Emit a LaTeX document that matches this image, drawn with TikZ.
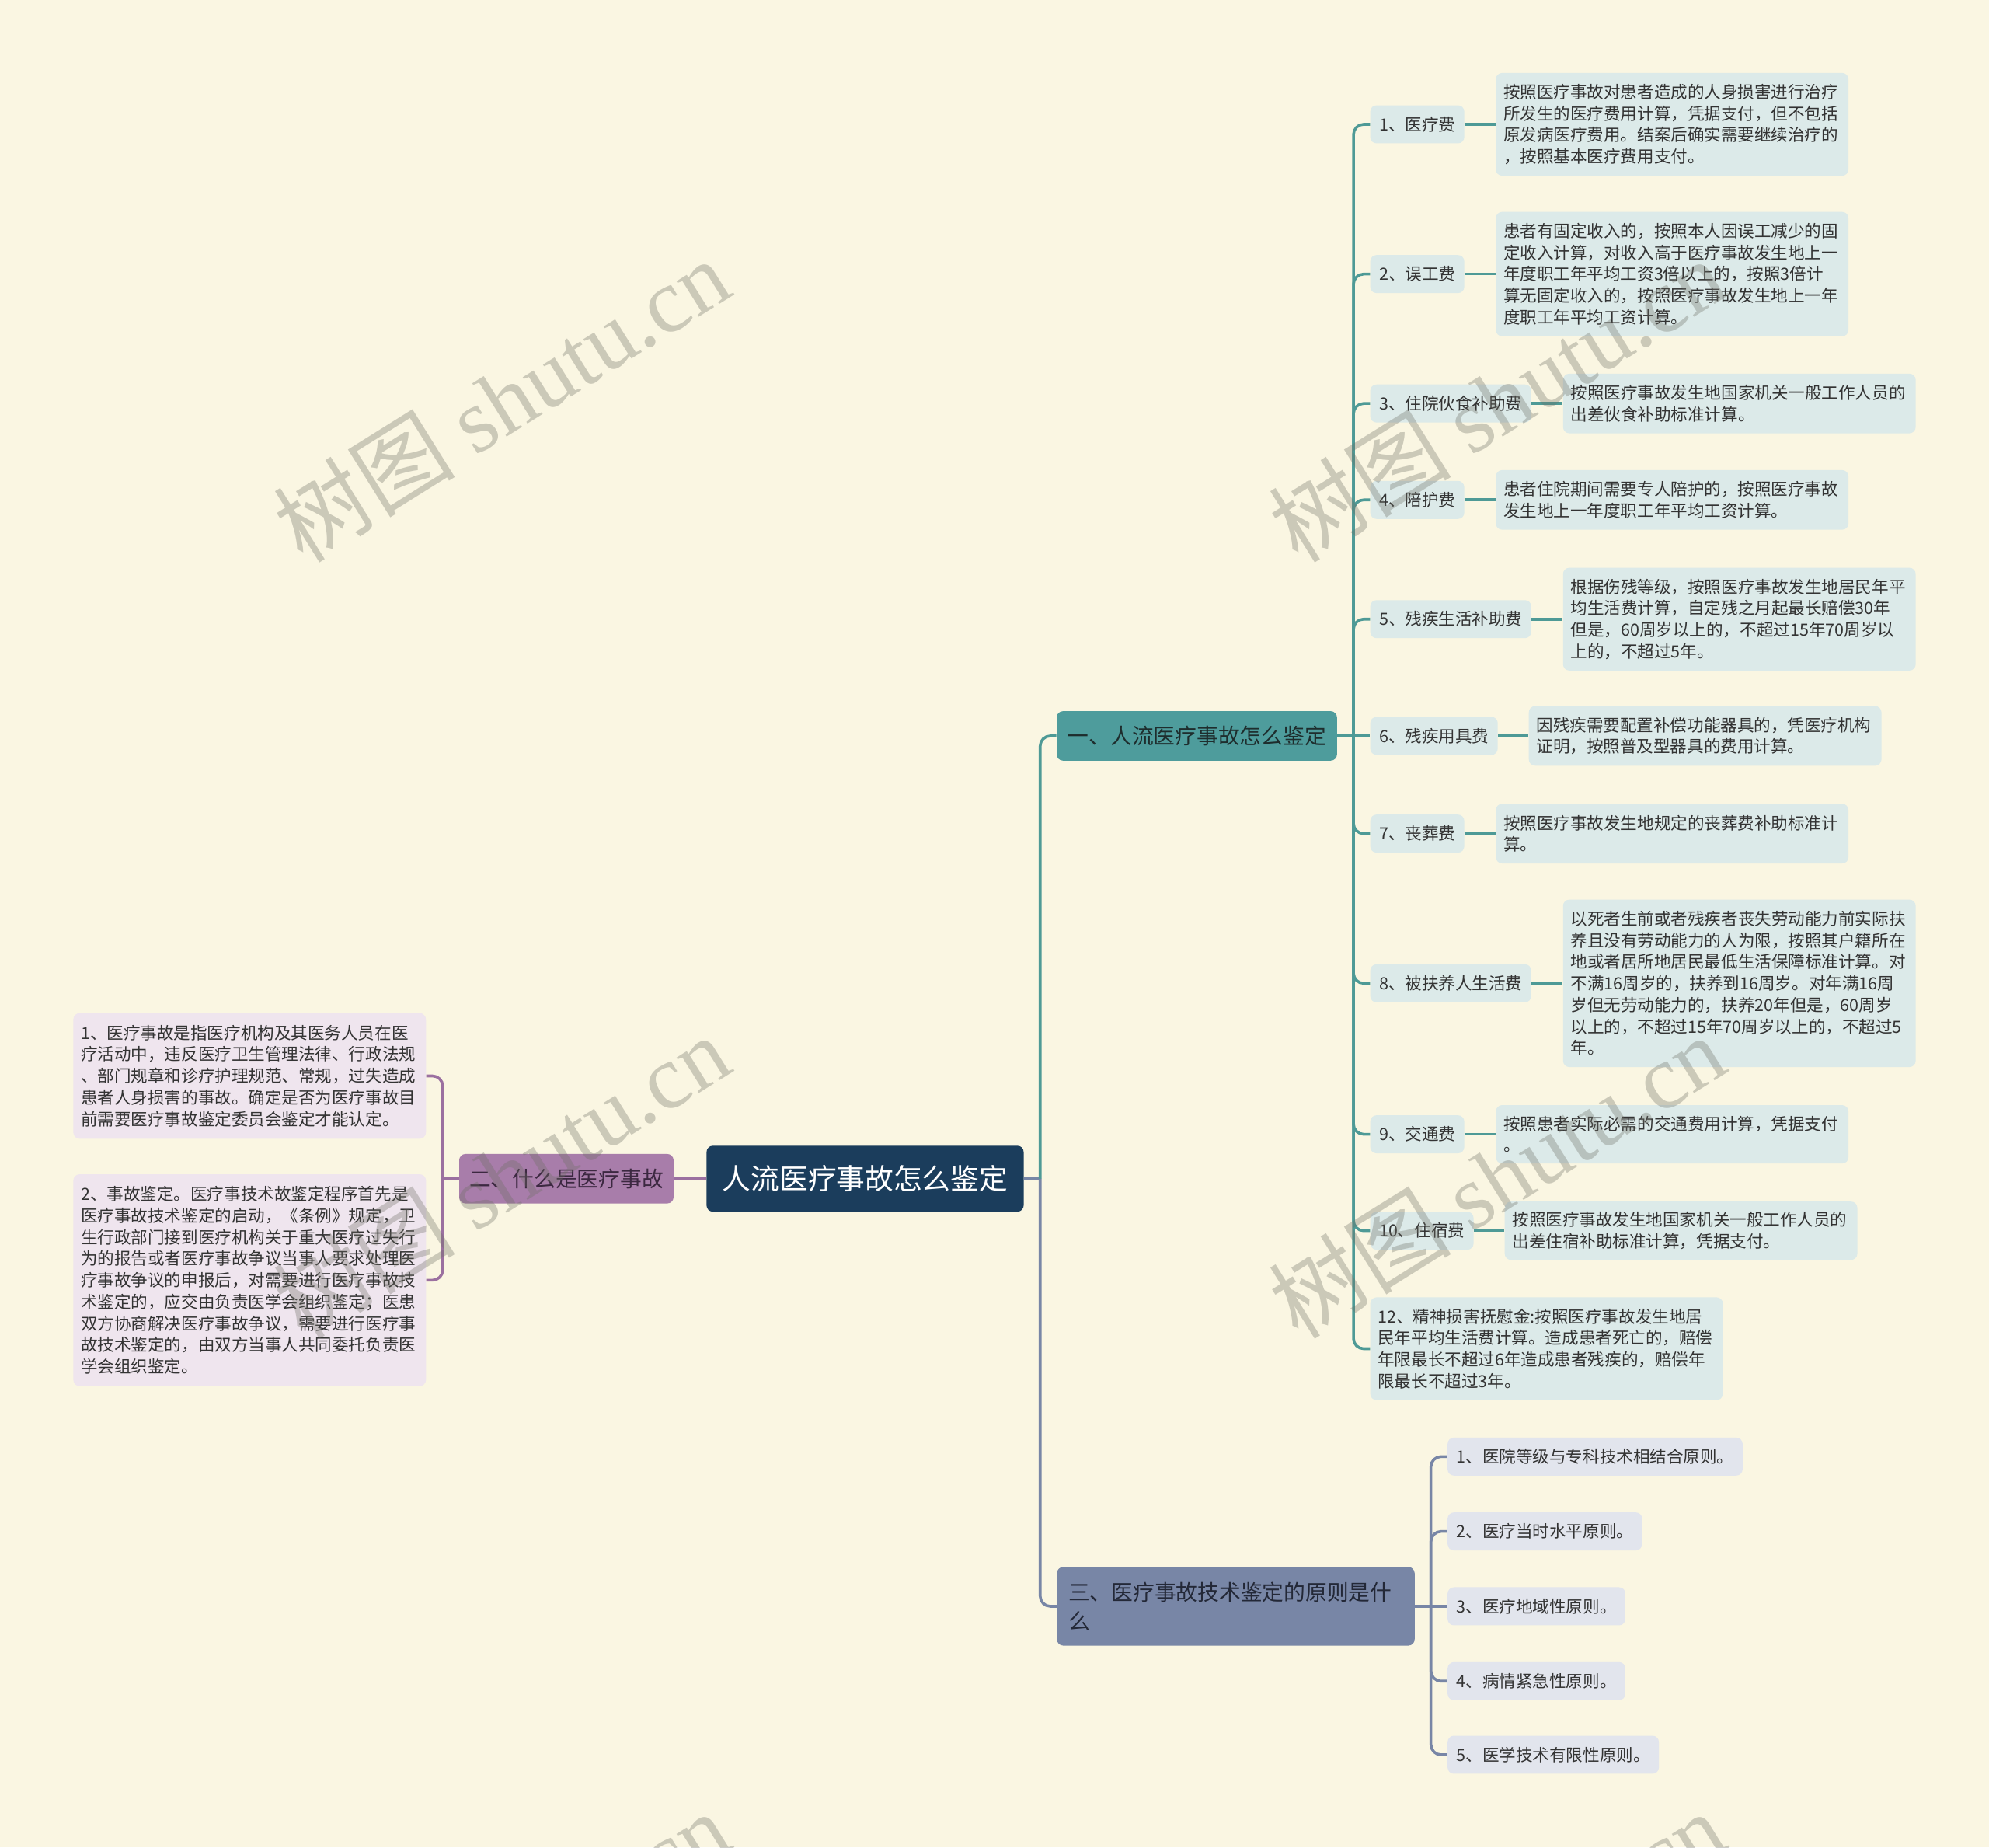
\documentclass[tikz,border=0pt]{standalone}
\usepackage{fontspec}
\setmainfont{Noto Sans CJK SC}
\newfontfamily\wmcjk{Noto Sans CJK SC}
\newfontfamily\wmlat{Liberation Serif}
\definecolor{bgc}{RGB}{250,246,226}
\definecolor{rootc}{RGB}{27,61,92}
\definecolor{tealc}{RGB}{78,156,156}
\definecolor{tealline}{RGB}{78,154,150}
\definecolor{purc}{RGB}{168,125,170}
\definecolor{purline}{RGB}{155,112,160}
\definecolor{slatec}{RGB}{120,134,166}
\definecolor{slateline}{RGB}{120,134,166}
\definecolor{tealleaf}{RGB}{220,234,233}
\definecolor{purleaf}{RGB}{239,229,238}
\definecolor{slateleaf}{RGB}{226,229,237}
\definecolor{txt}{RGB}{51,51,51}
\definecolor{wmc}{RGB}{110,110,100}
\tikzset{
  rootbox/.style={fill=rootc, rounded corners=5, text=white, font=\fontsize{22.5}{27}\selectfont, minimum width=250, minimum height=52, inner sep=0},
  brbox/.style={rounded corners=5, font=\fontsize{17}{23}\selectfont, minimum height=39, inner sep=0},
  tlabel/.style={fill=tealleaf, rounded corners=5, text=txt, font=\fontsize{13.2}{17}\selectfont, inner xsep=7, inner ysep=0, minimum height=30, anchor=west},
  slabel/.style={tlabel, fill=slateleaf},
  tdetail/.style={fill=tealleaf, rounded corners=5, text=txt, font=\fontsize{13.2}{17}\selectfont, text width=266, align=left, inner xsep=6, inner ysep=2, anchor=west},
  pdetail/.style={tdetail, fill=purleaf, anchor=east},
  tline/.style={draw=tealline, line width=2.2},
  pline/.style={draw=purline, line width=2.2},
  sline/.style={draw=slateline, line width=2.2},
  wm/.style={text=wmc, opacity=0.33, rotate=32, font=\fontsize{72}{76}\selectfont, inner sep=0}
}
\begin{document}
\begin{tikzpicture}[x=1pt, y=-1pt]
\useasboundingbox (0,0) rectangle (1568,1456);
\fill[bgc] (0,0) rectangle (1568,1456);

% root and branches
\node[rootbox] (root) at (682,929) {人流医疗事故怎么鉴定};
\node[brbox, fill=tealc, text={rgb,255:red,30;green,45;blue,45}, minimum width=221] (b1) at (943.5,580) {一、人流医疗事故怎么鉴定};
\node[brbox, fill=purc, text={rgb,255:red,60;green,40;blue,65}, minimum width=169] (b2) at (446.5,929) {二、什么是医疗事故};
\node[brbox, fill=slatec, text={rgb,255:red,35;green,40;blue,55}, text width=264, align=left, inner xsep=9, minimum height=62, anchor=west] (b3) at (833,1266) {三、医疗事故技术鉴定的原则是什\\么};

% branch 1 children
\node[tlabel] (c1) at (1080,98) {1、医疗费};
\node[tdetail, minimum height=81] (d1) at (1179,98) {按照医疗事故对患者造成的人身损害进行治疗\\所发生的医疗费用计算，凭据支付，但不包括\\原发病医疗费用。结案后确实需要继续治疗的\\，按照基本医疗费用支付。};
\node[tlabel] (c2) at (1080,216) {2、误工费};
\node[tdetail, minimum height=98] (d2) at (1179,216) {患者有固定收入的，按照本人因误工减少的固\\定收入计算，对收入高于医疗事故发生地上一\\年度职工年平均工资3倍以上的，按照3倍计\\算无固定收入的，按照医疗事故发生地上一年\\度职工年平均工资计算。};
\node[tlabel] (c3) at (1080,318) {3、住院伙食补助费};
\node[tdetail, minimum height=47] (d3) at (1232,318) {按照医疗事故发生地国家机关一般工作人员的\\出差伙食补助标准计算。};
\node[tlabel] (c4) at (1080,394) {4、陪护费};
\node[tdetail, minimum height=47] (d4) at (1179,394) {患者住院期间需要专人陪护的，按照医疗事故\\发生地上一年度职工年平均工资计算。};
\node[tlabel] (c5) at (1080,488) {5、残疾生活补助费};
\node[tdetail, minimum height=81] (d5) at (1232,488) {根据伤残等级，按照医疗事故发生地居民年平\\均生活费计算，自定残之月起最长赔偿30年\\但是，60周岁以上的，不超过15年70周岁以\\上的，不超过5年。};
\node[tlabel] (c6) at (1080,580) {6、残疾用具费};
\node[tdetail, minimum height=47] (d6) at (1205,580) {因残疾需要配置补偿功能器具的，凭医疗机构\\证明，按照普及型器具的费用计算。};
\node[tlabel] (c7) at (1080,657) {7、丧葬费};
\node[tdetail, minimum height=47] (d7) at (1179,657) {按照医疗事故发生地规定的丧葬费补助标准计\\算。};
\node[tlabel] (c8) at (1080,775) {8、被扶养人生活费};
\node[tdetail, minimum height=132] (d8) at (1232,775) {以死者生前或者残疾者丧失劳动能力前实际扶\\养且没有劳动能力的人为限，按照其户籍所在\\地或者居所地居民最低生活保障标准计算。对\\不满16周岁的，扶养到16周岁。对年满16周\\岁但无劳动能力的，扶养20年但是，60周岁\\以上的，不超过15年70周岁以上的，不超过5\\年。};
\node[tlabel] (c9) at (1080,894) {9、交通费};
\node[tdetail, minimum height=46] (d9) at (1179,894) {按照患者实际必需的交通费用计算，凭据支付\\。};
\node[tlabel] (c10) at (1080,970) {10、住宿费};
\node[tdetail, minimum height=46] (d10) at (1186,970) {按照医疗事故发生地国家机关一般工作人员的\\出差住宿补助标准计算，凭据支付。};
\node[tdetail, minimum height=81] (c12) at (1080,1063) {12、精神损害抚慰金:按照医疗事故发生地居\\民年平均生活费计算。造成患者死亡的，赔偿\\年限最长不超过6年造成患者残疾的，赔偿年\\限最长不超过3年。};

% branch 2 children
\node[pdetail, minimum height=99] (l1) at (336,848) {1、医疗事故是指医疗机构及其医务人员在医\\疗活动中，违反医疗卫生管理法律、行政法规\\、部门规章和诊疗护理规范、常规，过失造成\\患者人身损害的事故。确定是否为医疗事故目\\前需要医疗事故鉴定委员会鉴定才能认定。};
\node[pdetail, minimum height=167] (l2) at (336,1009) {2、事故鉴定。医疗事技术故鉴定程序首先是\\医疗事故技术鉴定的启动，《条例》规定，卫\\生行政部门接到医疗机构关于重大医疗过失行\\为的报告或者医疗事故争议当事人要求处理医\\疗事故争议的申报后，对需要进行医疗事故技\\术鉴定的，应交由负责医学会组织鉴定；医患\\双方协商解决医疗事故争议，需要进行医疗事\\故技术鉴定的，由双方当事人共同委托负责医\\学会组织鉴定。};

% branch 3 children
\node[slabel] (p1) at (1141,1148) {1、医院等级与专科技术相结合原则。};
\node[slabel] (p2) at (1141,1207) {2、医疗当时水平原则。};
\node[slabel] (p3) at (1141,1266) {3、医疗地域性原则。};
\node[slabel] (p4) at (1141,1325) {4、病情紧急性原则。};
\node[slabel] (p5) at (1141,1383) {5、医学技术有限性原则。};

% junctions
\coordinate (j0) at (820,929);
\coordinate (j1) at (1067,580);
\coordinate (j2) at (349,929);
\coordinate (j3) at (1128,1266);

% connectors root
\draw[sline] (root.east) -- (j0);
\draw[tline, rounded corners=8] (j0) |- (b1.west);
\draw[sline, rounded corners=8] (j0) |- (b3.west);
\draw[pline] (root.west) -- (b2.east);

% branch 1
\draw[tline] (b1.east) -- (j1);
\foreach \c in {c1,c2,c3,c4,c5,c7,c8,c9,c10,c12}
  \draw[tline, rounded corners=8] (j1) |- (\c.west);
\draw[tline] (j1) -- (c6.west);
\foreach \c/\d in {c1/d1,c2/d2,c3/d3,c4/d4,c5/d5,c6/d6,c7/d7,c8/d8,c9/d9,c10/d10}
  \draw[tline] (\c.east) -- (\d.west);

% branch 2
\draw[pline] (b2.west) -- (j2);
\draw[pline, rounded corners=8] (j2) |- (l1.east);
\draw[pline, rounded corners=8] (j2) |- (l2.east);

% branch 3
\draw[sline] (b3.east) -- (j3);
\foreach \p in {p1,p2,p4,p5}
  \draw[sline, rounded corners=8] (j3) |- (\p.west);
\draw[sline] (j3) -- (p3.west);

% watermarks
\begin{scope}
\clip (0,0) rectangle (1568,1456);
\node[wm] (wm1) at (395,315) {{\wmcjk 树图} {\wmlat shutu.cn}};
\node[wm] (wm2) at (1180,315) {{\wmcjk 树图} {\wmlat shutu.cn}};
\node[wm] (wm3) at (395,927) {{\wmcjk 树图} {\wmlat shutu.cn}};
\node[wm] (wm4) at (1180,927) {{\wmcjk 树图} {\wmlat shutu.cn}};
\node[wm] (wm5) at (395,1539) {{\wmcjk 树图} {\wmlat shutu.cn}};
\node[wm] (wm6) at (1180,1539) {{\wmcjk 树图} {\wmlat shutu.cn}};
\end{scope}
\end{tikzpicture}
\end{document}
